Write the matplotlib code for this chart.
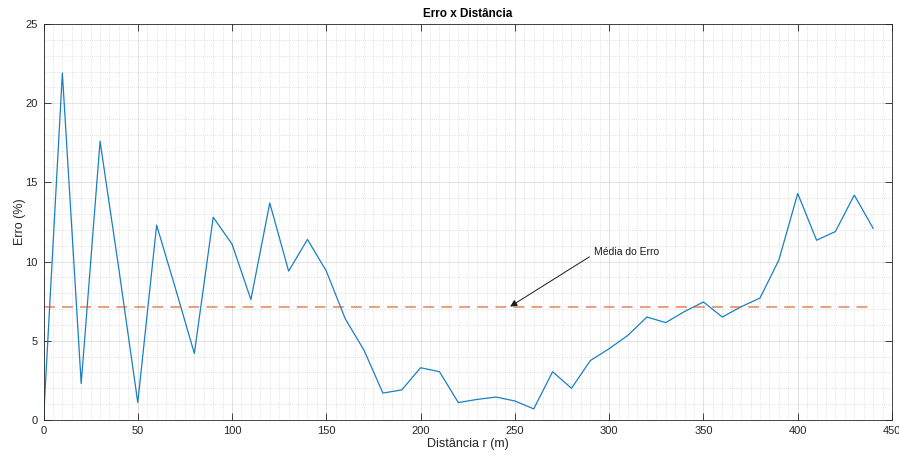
import numpy as np
import matplotlib
matplotlib.use("Agg")
import matplotlib.pyplot as plt
from matplotlib.ticker import MultipleLocator

plt.rcParams['font.family'] = ['Liberation Sans', 'DejaVu Sans']

# Distance (m) and relative error (%)
distancia = list(range(0, 450, 10))
erro = [0.0, 21.9, 2.3, 17.6, 9.5, 1.1, 12.3, 8.3, 4.2, 12.8,
        11.1, 7.6, 13.7, 9.4, 11.4, 9.4, 6.4, 4.4, 1.7, 1.9,
        3.3, 3.05, 1.1, 1.3, 1.45, 1.2, 0.7, 3.05, 2.0, 3.75,
        4.5, 5.35, 6.5, 6.15, 6.85, 7.45, 6.5, 7.15, 7.7, 10.1,
        14.3, 11.35, 11.9, 14.2, 12.1]
x_ticks = [0, 50, 100, 150, 200, 250, 300, 350, 400, 450]
y_ticks = [0, 5, 10, 15, 20, 25]

media = float(np.mean(erro))

fig = plt.figure(figsize=(8.99, 4.57), dpi=100)
ax = fig.add_axes([43.5 / 899, 37 / 457, 848.5 / 899, 396 / 457])

ax.plot(distancia, erro, color='#0072BD', linewidth=0.9, alpha=0.9)
ax.plot([distancia[0], distancia[-1]], [media, media], linestyle=(0, (6, 4)),
        color='#D95319', alpha=0.6, linewidth=1.3)

ax.set_xlim(0, 450)
ax.set_ylim(0, 25)
ax.set_xticks(x_ticks)
ax.set_yticks(y_ticks)
ax.xaxis.set_minor_locator(MultipleLocator(5))
ax.yaxis.set_minor_locator(MultipleLocator(1))

axis_col = '#262626'
ax.tick_params(which='major', direction='in', length=5, width=0.6,
               top=True, right=True, colors=axis_col, labelsize=8, pad=4)
ax.tick_params(which='minor', length=0, top=True, right=True)
for s in ax.spines.values():
    s.set_color(axis_col)
    s.set_linewidth(0.6)

ax.grid(which='major', color='#262626', alpha=0.15, linewidth=0.6)
ax.grid(which='minor', color='#262626', alpha=0.25, linewidth=0.5,
        linestyle=(0, (1, 2)))
ax.set_axisbelow(True)

ax.set_title('Erro x Distância', fontsize=8.5, fontweight='bold',
             color='black', pad=5)
ax.set_xlabel('Distância r (m)', fontsize=9, color=axis_col, labelpad=2)
ax.set_ylabel('Erro (%)', fontsize=9, color=axis_col, labelpad=0)

ax.annotate('', xy=(247.5, media + 0.05), xytext=(289.5, 10.3),
            arrowprops=dict(arrowstyle='-|>', color='#1a1a1a', lw=0.7,
                            mutation_scale=10, shrinkA=0, shrinkB=0))
ax.text(292, 10.6, 'Média do Erro', fontsize=7.5, color='#1a1a1a',
        ha='left', va='center')

fig.savefig('out.png', dpi=100)
